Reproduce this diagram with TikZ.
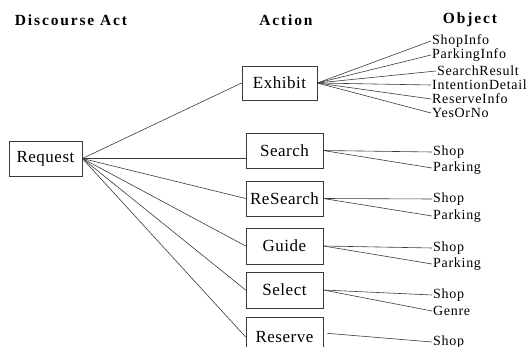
\documentclass[tikz,border=0pt]{standalone}
\usepackage{fontspec}
\setmainfont{Liberation Serif}
\newfontfamily\hdrfont[LetterSpace=12]{Liberation Serif}
\newfontfamily\actfont[LetterSpace=3]{Liberation Serif}
\newfontfamily\objfont[LetterSpace=5]{Liberation Serif}
\usepackage{tikz}
\definecolor{inkline}{HTML}{3A3A3A}
\tikzset{
  hdr/.style={font=\hdrfont\fontsize{15.5}{17}\selectfont\bfseries, inner sep=0pt},
  actbox/.style={draw=inkline, line width=0.7pt, fill=white, minimum width=77pt, minimum height=35pt, inner sep=2pt, font=\actfont\fontsize{17}{19}\selectfont},
  objlabel/.style={anchor=west, inner sep=1pt, font=\objfont\fontsize{14}{16}\selectfont},
  link/.style={draw=inkline, line width=0.6pt},
}
\begin{document}
\begin{tikzpicture}[x=1pt, y=-1pt]
  \clip (0,0) rectangle (531,347);
  % column headings
  \node[hdr] (hdract) at (71,20) {Discourse Act};
  \node[hdr] (hdraction) at (286,20) {Action};
  \node[hdr] (hdrobject) at (470,20) {Object};
  % discourse act and actions
  \node[actbox, minimum width=73pt] (request) at (45.5,158.5) {Request};
  \node[actbox, minimum width=75pt, minimum height=34pt] (exhibit) at (279.5,83) {Exhibit};
  \node[actbox] (search) at (284.5,150.5) {Search};
  \node[actbox] (research) at (284.5,198.5) {ReSearch};
  \node[actbox, minimum height=36pt] (guide) at (284.5,246) {Guide};
  \node[actbox, minimum height=36pt] (select) at (284.5,290) {Select};
  \node[actbox, minimum height=40pt] (reserve) at (284.5,337) {Reserve};
  % objects
  \node[objlabel] (exshop) at (431,41) {ShopInfo};
  \node[objlabel] (expark) at (431,55) {ParkingInfo};
  \node[objlabel] (exresult) at (436,71) {SearchResult};
  \node[objlabel] (exintent) at (431,85) {IntentionDetail};
  \node[objlabel] (exreserve) at (431,99) {ReserveInfo};
  \node[objlabel] (exyesno) at (431,113) {YesOrNo};
  \node[objlabel] (seshop) at (432,152) {Shop};
  \node[objlabel] (separk) at (432,168) {Parking};
  \node[objlabel] (reshop) at (432,199) {Shop};
  \node[objlabel] (repark) at (432,216) {Parking};
  \node[objlabel] (gushop) at (432,248) {Shop};
  \node[objlabel] (gupark) at (432,264) {Parking};
  \node[objlabel] (slshop) at (432,295) {Shop};
  \node[objlabel] (slgenre) at (432,311) {Genre};
  \node[objlabel] (rvshop) at (432,342) {Shop};
  % request to actions
  \draw[link] (request.east) -- (exhibit.west);
  \draw[link] (request.east) -- (request.east -| search.west);
  \draw[link] (request.east) -- (research.west);
  \draw[link] (request.east) -- (guide.west);
  \draw[link] (request.east) -- (select.west);
  \draw[link] (request.east) -- (reserve.west);
  % actions to objects
  \draw[link] (exhibit.east) -- (exshop.west);
  \draw[link] (exhibit.east) -- (expark.west);
  \draw[link] (exhibit.east) -- (exresult.west);
  \draw[link] (exhibit.east) -- (exintent.west);
  \draw[link] (exhibit.east) -- (exreserve.west);
  \draw[link] (exhibit.east) -- (exyesno.west);
  \draw[link] (search.east) -- (seshop.west);
  \draw[link] (search.east) -- (separk.west);
  \draw[link] (research.east) -- (reshop.west);
  \draw[link] (research.east) -- (repark.west);
  \draw[link] (guide.east) -- (gushop.west);
  \draw[link] (guide.east) -- (gupark.west);
  \draw[link] (select.east) -- (slshop.west);
  \draw[link] (select.east) -- (slgenre.west);
  \draw[link, shorten <=4pt] ([yshift=4pt]reserve.east) -- (rvshop.west);
\end{tikzpicture}
\end{document}
